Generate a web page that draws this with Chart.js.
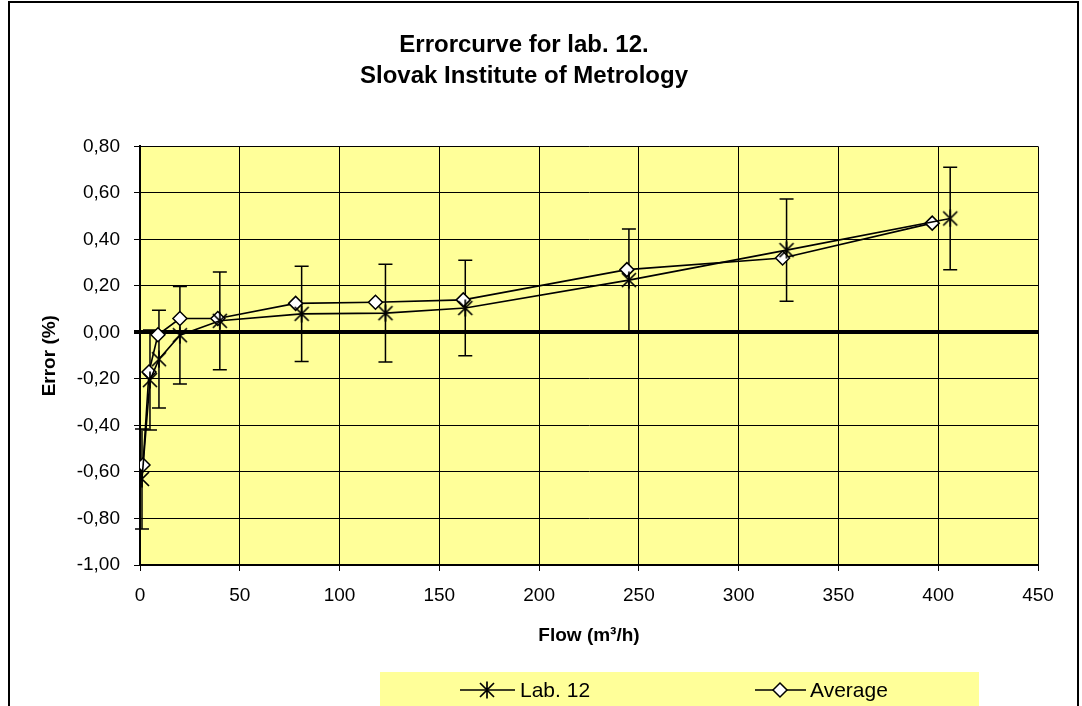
<!DOCTYPE html>
<html>
<head>
<meta charset="utf-8">
<script src="https://cdn.jsdelivr.net/npm/chart.js@4.4.1/dist/chart.umd.min.js"></script>
<style>
  body { margin: 0; background: #fff; }
  #wrap { width: 1082px; height: 706px; position: relative; }
</style>
</head>
<body>
<div id="wrap"><canvas id="myChart"></canvas></div>
<script>
// data
const labFlow  = [1, 5, 9.5, 20, 40, 81, 123, 163, 245, 324, 406];
const labError = [-0.63, -0.205, -0.115, -0.012, 0.05, 0.08, 0.083, 0.105, 0.225, 0.354, 0.49];
const labUnc   = [0.215, 0.215, 0.21, 0.21, 0.21, 0.205, 0.21, 0.205, 0.22, 0.22, 0.22];
const avgFlow  = [1.5, 4.5, 9, 20, 39, 78, 118, 162, 244, 322, 397];
const avgError = [-0.57, -0.17, -0.01, 0.06, 0.06, 0.125, 0.13, 0.14, 0.27, 0.32, 0.47];
const xTicks = [0, 50, 100, 150, 200, 250, 300, 350, 400, 450];
const yTicks = [-1, -0.8, -0.6, -0.4, -0.2, 0, 0.2, 0.4, 0.6, 0.8];
const seriesNames = ['Lab. 12', 'Average'];
const titleLines = ['Errorcurve for lab. 12.', 'Slovak Institute of Metrology'];

const FONT = 'Arial, "Liberation Sans", sans-serif';
const PLOT_BG = '#FFFF99';

// asterisk marker (X with a vertical stroke)
function makeStar(size) {
  const c = document.createElement('canvas');
  c.width = size; c.height = size;
  const g = c.getContext('2d');
  g.strokeStyle = '#000';
  g.lineWidth = 1.7;
  const m = size / 2, d = size / 2 - 2;
  g.beginPath();
  g.moveTo(m - d, m - d); g.lineTo(m + d, m + d);
  g.moveTo(m + d, m - d); g.lineTo(m - d, m + d);
  g.moveTo(m, 0.5); g.lineTo(m, size - 0.5);
  g.stroke();
  return c;
}
const starImg = makeStar(18);

function pts(xs, ys) {
  let out = [];
  for (let i = 0; i < xs.length; i++) out.push({ x: xs[i], y: ys[i] });
  return out;
}

function fmt(v) {
  if (Math.abs(v) < 1e-9) return '0,00';
  return v.toFixed(2).replace('.', ',');
}

// yellow plot area, error bars, legend and frame
const decor = {
  id: 'decor',
  beforeDraw(chart) {
    const { ctx, chartArea: a } = chart;
    ctx.save();
    ctx.fillStyle = '#fff';
    ctx.fillRect(0, 0, chart.width, chart.height);
    ctx.fillStyle = PLOT_BG;
    ctx.fillRect(a.left, a.top, a.right - a.left, a.bottom - a.top);
    ctx.restore();
  },
  beforeDatasetsDraw(chart) {
    const { ctx } = chart;
    const xs = chart.scales.x, ys = chart.scales.y;
    ctx.save();
    ctx.strokeStyle = '#000';
    ctx.lineWidth = 1.5;
    for (let i = 0; i < labFlow.length; i++) {
      const px = xs.getPixelForValue(labFlow[i]);
      const top = ys.getPixelForValue(labError[i] + labUnc[i]);
      const bot = ys.getPixelForValue(labError[i] - labUnc[i]);
      ctx.beginPath();
      ctx.moveTo(px, top); ctx.lineTo(px, bot);
      ctx.moveTo(px - 7, top); ctx.lineTo(px + 7, top);
      ctx.moveTo(px - 7, bot); ctx.lineTo(px + 7, bot);
      ctx.stroke();
    }
    ctx.restore();
  },
  afterDraw(chart) {
    const { ctx } = chart;
    ctx.save();
    // legend
    ctx.fillStyle = PLOT_BG;
    ctx.fillRect(380, 672, 599, 40);
    const ly = 690;
    ctx.strokeStyle = '#000';
    ctx.lineWidth = 1.5;
    ctx.beginPath();
    ctx.moveTo(460, ly); ctx.lineTo(515, ly);
    ctx.moveTo(755, ly); ctx.lineTo(806, ly);
    ctx.stroke();
    ctx.drawImage(starImg, 487 - 9, ly - 9);
    ctx.beginPath();
    ctx.moveTo(780, ly - 7); ctx.lineTo(787, ly); ctx.lineTo(780, ly + 7); ctx.lineTo(773, ly);
    ctx.closePath();
    ctx.fillStyle = '#fff';
    ctx.fill();
    ctx.stroke();
    ctx.fillStyle = '#000';
    ctx.font = '21px ' + FONT;
    ctx.textBaseline = 'middle';
    ctx.textAlign = 'left';
    ctx.fillText(seriesNames[0], 520, ly + 1);
    ctx.fillText(seriesNames[1], 810, ly + 1);
    // outer frame
    ctx.lineWidth = 2;
    ctx.strokeRect(9, 2, 1069, 720);
    ctx.restore();
  }
};

new Chart(document.getElementById('myChart'), {
  type: 'scatter',
  data: {
    datasets: [{
      label: seriesNames[0],
      data: pts(labFlow, labError),
      showLine: true,
      borderColor: '#000',
      borderWidth: 1.6,
      pointStyle: starImg,
      pointRadius: 9,
      pointHoverRadius: 9
    }, {
      label: seriesNames[1],
      data: pts(avgFlow, avgError),
      showLine: true,
      borderColor: '#000',
      borderWidth: 1.6,
      pointStyle: 'rectRot',
      pointRadius: 7,
      pointHoverRadius: 7,
      pointBackgroundColor: '#fff',
      pointBorderColor: '#000',
      pointBorderWidth: 1.5
    }]
  },
  options: {
    responsive: true,
    maintainAspectRatio: false,
    animation: false,
    layout: { padding: { left: 10, right: 44, top: 4, bottom: 56 } },
    plugins: {
      legend: { display: false },
      tooltip: { enabled: false },
      title: {
        display: true,
        text: titleLines,
        color: '#000',
        font: { family: FONT, size: 24, weight: 'bold', lineHeight: 1.3 },
        padding: { top: 26, bottom: 54 }
      }
    },
    scales: {
      x: {
        type: 'linear',
        min: 0, max: 450,
        afterBuildTicks(s) { s.ticks = xTicks.map(v => ({ value: v })); },
        afterFit(s) { s.height = 85; },
        ticks: { color: '#000', font: { family: FONT, size: 19 }, padding: 13 },
        grid: { color: '#000', lineWidth: 1, tickLength: 6, tickColor: '#000' },
        border: { color: '#000', width: 2 },
        title: {
          display: true, text: 'Flow (m³/h)', color: '#000',
          font: { family: FONT, size: 19, weight: 'bold' },
          padding: { top: 0, bottom: 3 }
        }
      },
      y: {
        type: 'linear',
        min: -1, max: 0.8,
        afterBuildTicks(s) { s.ticks = yTicks.map(v => ({ value: v })); },
        afterFit(s) { s.width = 130; },
        ticks: { color: '#000', font: { family: FONT, size: 19 }, padding: 14, callback: v => fmt(v) },
        grid: {
          color: '#000', tickLength: 6, tickColor: '#000',
          lineWidth: c => (c.tick && Math.abs(c.tick.value) < 1e-9 ? 4 : 1)
        },
        border: { color: '#000', width: 2 },
        title: {
          display: true, text: 'Error (%)', color: '#000',
          font: { family: FONT, size: 19, weight: 'bold' },
          padding: { top: 28, bottom: 0 }
        }
      }
    }
  },
  plugins: [decor]
});
</script>
</body>
</html>
